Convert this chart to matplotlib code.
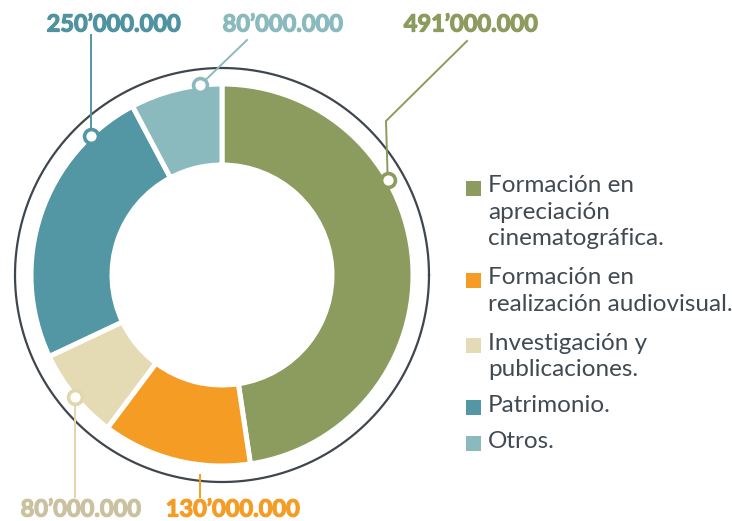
import matplotlib.pyplot as plt
import matplotlib.patheffects as pe
import numpy as np

# datos (millones de pesos)
categorias = ["Formación en\napreciación\ncinematográfica.",
              "Formación en\nrealización audiovisual.",
              "Investigación y\npublicaciones.",
              "Patrimonio.",
              "Otros."]
valores = [491, 130, 80, 250, 80]
etiquetas = ["491’000.000", "130’000.000", "80’000.000", "250’000.000", "80’000.000"]

colores = ["#8c9b5e", "#f59c24", "#e4dbb4", "#5396a4", "#8bbabe"]
colores_txt = ["#8c9b5e", "#f59c24", "#c9c19f", "#4f93a0", "#8bbabe"]

W, H = 732, 521
plt.rcParams['font.family'] = ['Lato', 'DejaVu Sans']

fig = plt.figure(figsize=(W / 100, H / 100), dpi=100)
ax = fig.add_axes([0, 0, 1, 1])

cx, cy = 222, H - 275
R, ancho = 191, 81

ax.pie(valores, colors=colores, startangle=90, counterclock=False,
       center=(cx, cy), radius=R,
       wedgeprops=dict(width=ancho, edgecolor="white", linewidth=3.6))

# anillo exterior
t = np.linspace(0, 2 * np.pi, 400)
ax.plot(cx + 207 * np.cos(t), cy + 207 * np.sin(t), color="#3f464d", lw=1.6)

# marcadores y líneas guía (posiciones de diseño, en pixeles)
guias = [
    # angulo marcador, puntos de la línea (px), posición texto (px)
    (29.8, [(386, 121), (467, 41)], (471, 24)),
    (None, [(200, 475), (200, 497)], (233, 509)),
    (219.7, [(75, 497)], (81, 509)),
    (133.3, [(91, 35)], (114, 24)),
    (96.6, [(247, 40)], (283, 24)),
]

for i, (ang, pts, txt) in enumerate(guias):
    c = colores[i] if i != 2 else "#e0d7ae"
    if ang is not None:
        a = np.radians(ang)
        mx, my = cx + R * np.cos(a), cy + R * np.sin(a)
        xs = [mx] + [p[0] for p in pts]
        ys = [my] + [H - p[1] for p in pts]
        ax.plot(xs, ys, color=c, lw=1.4, zorder=3)
        ax.plot(mx, my, "o", ms=10, mfc="white", mec=c, mew=2.6, zorder=4)
    else:
        ax.plot([p[0] for p in pts], [H - p[1] for p in pts], color=c, lw=1.4)
    ax.text(txt[0], H - txt[1], etiquetas[i], color=colores_txt[i],
            fontsize=17, fontweight="bold", ha="center", va="center",
            path_effects=[pe.withStroke(linewidth=0.9, foreground=colores_txt[i])])

# leyenda
ley_y = [188, 280, 345, 407, 443]
for i, cat in enumerate(categorias):
    y = H - ley_y[i]
    ax.add_patch(plt.Rectangle((466, y - 7.5), 15, 15, color=colores[i], lw=0))
    ax.text(488, y + 12.5, cat, color="#414a52", fontsize=17.5,
            ha="left", va="top", linespacing=1.3)

ax.set_xlim(0, W)
ax.set_ylim(0, H)
ax.set_aspect("equal")
ax.axis("off")

fig.savefig("out.png", dpi=100)
